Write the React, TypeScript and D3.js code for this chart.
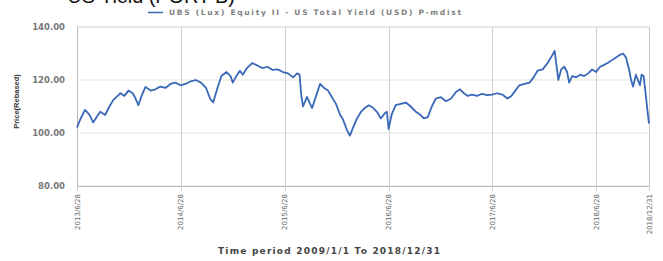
import React, { useRef, useEffect } from 'react';
import * as d3 from 'd3';

// (rebased price)
const dates = [
  '2013-06-28', '2013-07-09', '2013-07-26', '2013-08-10', '2013-08-24', '2013-09-08', '2013-09-18',
  '2013-10-05', '2013-10-20', '2013-11-03', '2013-11-18', '2013-11-28', '2013-12-12', '2013-12-26',
  '2014-01-10', '2014-01-20', '2014-01-30', '2014-02-10', '2014-02-24', '2014-03-14', '2014-03-30',
  '2014-04-17', '2014-05-05', '2014-05-23', '2014-06-09', '2014-06-27', '2014-07-15', '2014-08-02',
  '2014-08-20', '2014-09-07', '2014-09-25', '2014-10-09', '2014-10-20', '2014-11-04', '2014-11-18',
  '2014-12-06', '2014-12-20', '2014-12-28', '2015-01-07', '2015-01-22', '2015-02-01', '2015-02-16',
  '2015-03-06', '2015-03-24', '2015-04-11', '2015-04-29', '2015-05-17', '2015-06-04', '2015-06-22',
  '2015-07-10', '2015-07-28', '2015-08-11', '2015-08-20', '2015-08-25', '2015-09-01', '2015-09-15',
  '2015-09-26', '2015-10-03', '2015-10-17', '2015-10-31', '2015-11-14', '2015-11-28', '2015-12-12',
  '2015-12-26', '2016-01-09', '2016-01-20', '2016-02-03', '2016-02-13', '2016-02-24', '2016-03-09',
  '2016-03-23', '2016-04-06', '2016-04-20', '2016-05-04', '2016-05-18', '2016-06-01', '2016-06-15',
  '2016-06-22', '2016-06-28', '2016-07-09', '2016-07-23', '2016-08-10', '2016-08-28', '2016-09-14',
  '2016-10-02', '2016-10-16', '2016-10-30', '2016-11-13', '2016-11-27', '2016-12-11', '2016-12-29',
  '2017-01-16', '2017-02-03', '2017-02-20', '2017-03-06', '2017-03-20', '2017-04-03', '2017-04-17',
  '2017-05-05', '2017-05-23', '2017-06-10', '2017-06-27', '2017-07-15', '2017-08-02', '2017-08-20',
  '2017-09-03', '2017-09-17', '2017-10-01', '2017-10-19', '2017-11-06', '2017-11-20', '2017-12-04',
  '2017-12-22', '2018-01-09', '2018-01-23', '2018-02-02', '2018-02-08', '2018-02-15', '2018-02-25',
  '2018-03-08', '2018-03-18', '2018-03-25', '2018-04-05', '2018-04-19', '2018-05-03', '2018-05-17',
  '2018-05-31', '2018-06-14', '2018-06-28', '2018-07-12', '2018-07-26', '2018-08-09', '2018-08-23',
  '2018-09-06', '2018-09-20', '2018-10-01', '2018-10-11', '2018-10-22', '2018-10-29', '2018-11-05',
  '2018-11-15', '2018-11-22', '2018-11-29', '2018-12-05', '2018-12-12', '2018-12-19', '2018-12-26',
  '2018-12-31',
];

const prices = [
  102, 105, 108.7, 107, 104, 106.5, 108,
  106.8, 110, 112.5, 114, 115, 114, 116,
  115, 113, 110.5, 114, 117.4, 116, 116.5,
  117.5, 117, 118.5, 119, 118, 118.5, 119.5,
  120, 119, 117, 113, 111.5, 117, 121.5,
  123, 121.5, 119, 121, 123.5, 122, 124.5,
  126.4, 125.5, 124.5, 125, 123.8, 124, 123,
  122.5, 121, 122.5, 122, 115, 110, 113.6,
  111, 109.4, 114, 118.5, 117, 116, 113.5,
  111, 107, 105, 101, 99, 102, 105.5,
  108, 109.5, 110.5, 109.5, 108, 105.5, 107.5,
  108, 101.5, 107, 110.5, 111, 111.5, 110,
  108, 107, 105.5, 106, 110, 113, 113.5,
  112, 113, 115.5, 116.5, 115, 114, 114.5,
  114, 114.8, 114.3, 114.5, 115, 114.5, 113,
  114, 116, 118, 118.5, 119, 121, 123.5,
  124, 126.5, 129, 131, 126, 120, 124,
  125, 123, 119, 121.5, 121, 122, 121.5,
  122.5, 124, 123, 125, 125.7, 126.5, 127.5,
  128.5, 129.5, 130, 128.5, 124, 120, 117.5,
  122, 120, 118, 122, 121.5, 115, 108,
  103.5,
];

const tickDates = ['2013-06-28', '2014-06-28', '2015-06-28', '2016-06-28', '2017-06-28', '2018-06-28', '2018-12-31'];
const tickLabels = ['2013/6/28', '2014/6/28', '2015/6/28', '2016/6/28', '2017/6/28', '2018/6/28', '2018/12/31'];
const yTicks = [80, 100, 120, 140];

const seriesName = 'UBS (Lux) Equity II - US Total Yield (USD) P-mdist';

export default function App() {
  const ref = useRef<SVGSVGElement>(null);

  useEffect(() => {
    const svg = d3.select(ref.current);
    svg.selectAll('*').remove();

    const margin = { top: 27, right: 14, bottom: 75, left: 77 };
    const width = 663, height = 261;
    const parse = d3.timeParse('%Y-%m-%d');
    const data = dates.map((d, i) => ({ date: parse(d) as Date, value: prices[i] }));

    const x = d3.scaleTime()
      .domain([parse('2013-06-28') as Date, parse('2018-12-31') as Date])
      .range([margin.left, width - margin.right]);
    const y = d3.scaleLinear()
      .domain([80, 140])
      .range([height - margin.bottom, margin.top]);

    // horizontal grid
    svg.append('g')
      .selectAll('line')
      .data(yTicks)
      .enter()
      .append('line')
      .attr('x1', margin.left).attr('x2', width - margin.right)
      .attr('y1', d => y(d)).attr('y2', d => y(d))
      .attr('stroke', d => (d === 140 ? '#cfcfcf' : '#e6e6dc'))
      .attr('stroke-width', 1);

    // vertical grid + ticks
    const tx = tickDates.map(d => parse(d) as Date);
    svg.append('g')
      .selectAll('line')
      .data(tx)
      .enter()
      .append('line')
      .attr('x1', d => Math.round(x(d)) + 0.5).attr('x2', d => Math.round(x(d)) + 0.5)
      .attr('y1', margin.top).attr('y2', height - margin.bottom + 5)
      .attr('stroke', '#d0d0d0');

    // axes lines
    svg.append('line')
      .attr('x1', margin.left + 0.5).attr('x2', margin.left + 0.5)
      .attr('y1', margin.top).attr('y2', height - margin.bottom)
      .attr('stroke', '#bbbbbb');
    svg.append('line')
      .attr('x1', margin.left).attr('x2', width - margin.right)
      .attr('y1', height - margin.bottom + 0.5).attr('y2', height - margin.bottom + 0.5)
      .attr('stroke', '#bbbbbb');
    svg.append('line')
      .attr('x1', width - margin.right + 0.5).attr('x2', width - margin.right + 0.5)
      .attr('y1', margin.top).attr('y2', height - margin.bottom)
      .attr('stroke', '#c8c8c8');

    // y tick labels
    svg.append('g')
      .selectAll('text')
      .data(yTicks)
      .enter()
      .append('text')
      .attr('x', 65)
      .attr('y', d => y(d) + 3)
      .attr('text-anchor', 'end')
      .style('font-family', 'DejaVu Sans')
      .style('font-size', '8.5px')
      .style('font-weight', 'bold')
      .attr('fill', '#777')
      .text(d => d3.format('.2f')(d));

    // x tick labels
    svg.append('g')
      .selectAll('text')
      .data(tx)
      .enter()
      .append('text')
      .attr('transform', d => `translate(${x(d) + 2.5},${height - margin.bottom + 8}) rotate(-90)`)
      .attr('text-anchor', 'end')
      .style('font-family', 'DejaVu Sans')
      .style('font-size', '7px')
      .attr('fill', '#666')
      .text((d, i) => tickLabels[i]);

    // line
    const line = d3.line<{ date: Date; value: number }>()
      .x(d => x(d.date))
      .y(d => y(d.value));
    svg.append('path')
      .datum(data)
      .attr('d', line)
      .attr('fill', 'none')
      .attr('stroke', '#3a68b8')
      .attr('stroke-width', 1.8)
      .attr('stroke-linejoin', 'round');

    // y title
    svg.append('text')
      .attr('transform', `translate(19,${(margin.top + height - margin.bottom) / 2 - 5}) rotate(-90)`)
      .attr('text-anchor', 'middle')
      .style('font-family', 'Liberation Sans')
      .style('font-size', '7.5px')
      .style('font-weight', 'bold')
      .attr('fill', '#333')
      .text('Price(Rebased)');

    // x title
    svg.append('text')
      .attr('x', 218)
      .attr('y', 254)
      .attr('textLength', 222)
      .style('font-family', 'DejaVu Sans')
      .style('font-size', '9px')
      .style('font-weight', 'bold')
      .attr('fill', '#444')
      .text('Time period 2009/1/1 To 2018/12/31');

    // legend
    svg.append('line')
      .attr('x1', 148).attr('x2', 163)
      .attr('y1', 12.5).attr('y2', 12.5)
      .attr('stroke', '#3a68b8').attr('stroke-width', 1.5);
    svg.append('text')
      .attr('x', 169)
      .attr('y', 15)
      .attr('textLength', 292)
      .style('font-family', 'DejaVu Sans')
      .style('font-size', '7.5px')
      .style('font-weight', 'bold')
      .attr('fill', '#808080')
      .text(seriesName);

    // cut-off page heading above the chart
    svg.append('text')
      .attr('x', 55)
      .attr('y', 3)
      .attr('textLength', 180)
      .style('font-family', 'Liberation Sans')
      .style('font-size', '20px')
      .attr('fill', '#111')
      .text('• US Yield (PORT B)');
  }, []);

  return (
    <svg
      ref={ref}
      width={663}
      height={261}
      style={{ position: 'absolute', left: 0, top: 0, background: '#fff' }}
    />
  );
}
